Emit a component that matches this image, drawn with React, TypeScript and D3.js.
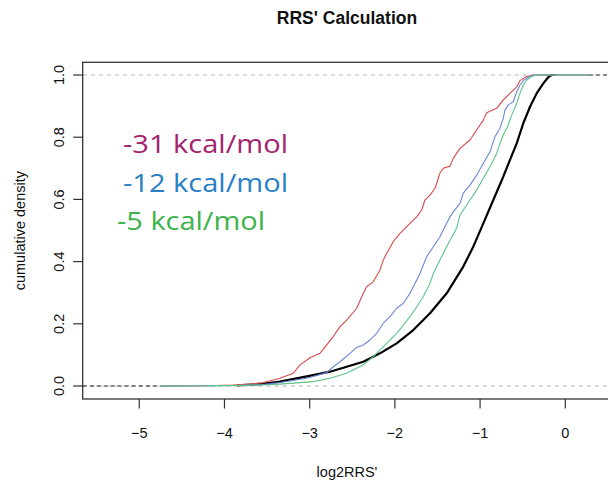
import React from "react";
import * as d3 from "d3";

const W = 608;
const H = 483;

const xTicks = [-5, -4, -3, -2, -1, 0];
const yTicks = [0, 0.2, 0.4, 0.6, 0.8, 1.0];

const redX = [-4.75, -4.2, -3.9, -3.7, -3.545, -3.349, -3.192, -3.114, -2.996, -2.879, -2.8, -2.723, -2.644, -2.566, -2.448, -2.371, -2.331, -2.254, -2.175, -2.136, -2.096, -2.019, -1.94, -1.823, -1.744, -1.685, -1.647, -1.588, -1.529, -1.471, -1.432, -1.353, -1.315, -1.236, -1.119, -1.04, -0.962, -0.923, -0.805, -0.728, -0.649, -0.57, -0.532, -0.453, -0.376, 0.28];
const redY = [0, 0.001, 0.003, 0.006, 0.011, 0.025, 0.041, 0.068, 0.091, 0.105, 0.132, 0.159, 0.191, 0.212, 0.25, 0.298, 0.319, 0.335, 0.373, 0.405, 0.427, 0.464, 0.491, 0.523, 0.544, 0.566, 0.598, 0.614, 0.636, 0.684, 0.7, 0.707, 0.732, 0.764, 0.791, 0.823, 0.855, 0.879, 0.893, 0.92, 0.941, 0.962, 0.982, 0.995, 1.0, 1.0];

const blueX = [-4.75, -4.2, -3.8, -3.55, -3.349, -3.035, -2.8, -2.723, -2.644, -2.527, -2.448, -2.371, -2.292, -2.214, -2.136, -2.058, -1.979, -1.901, -1.823, -1.784, -1.705, -1.627, -1.549, -1.471, -1.392, -1.353, -1.315, -1.236, -1.197, -1.119, -1.04, -0.962, -0.884, -0.825, -0.766, -0.728, -0.708, -0.669, -0.61, -0.57, -0.532, -0.493, -0.434, -0.376, 0.28];
const blueY = [0, 0.001, 0.002, 0.005, 0.011, 0.025, 0.043, 0.062, 0.078, 0.105, 0.124, 0.132, 0.148, 0.169, 0.202, 0.223, 0.25, 0.266, 0.298, 0.319, 0.362, 0.416, 0.448, 0.48, 0.523, 0.544, 0.56, 0.587, 0.62, 0.646, 0.678, 0.716, 0.753, 0.802, 0.829, 0.861, 0.887, 0.904, 0.914, 0.946, 0.968, 0.982, 0.993, 1.0, 1.0];

const greenX = [-4.75, -4.2, -3.8, -3.5, -3.349, -2.958, -2.762, -2.566, -2.371, -2.254, -2.175, -2.096, -1.979, -1.901, -1.823, -1.744, -1.667, -1.588, -1.549, -1.509, -1.432, -1.353, -1.275, -1.236, -1.197, -1.119, -1.04, -0.962, -0.884, -0.805, -0.766, -0.728, -0.669, -0.629, -0.57, -0.532, -0.493, -0.453, -0.394, -0.336, 0.28];
const greenY = [0, 0.001, 0.002, 0.004, 0.006, 0.014, 0.025, 0.041, 0.068, 0.094, 0.116, 0.137, 0.169, 0.196, 0.223, 0.255, 0.287, 0.33, 0.362, 0.384, 0.427, 0.469, 0.507, 0.55, 0.566, 0.598, 0.63, 0.668, 0.705, 0.748, 0.78, 0.807, 0.839, 0.871, 0.909, 0.941, 0.968, 0.984, 0.995, 1.0, 1.0];

const blackX = [-3.85, -3.55, -3.349, -2.958, -2.762, -2.566, -2.371, -2.175, -1.979, -1.784, -1.588, -1.392, -1.197, -1.08, -0.962, -0.845, -0.728, -0.649, -0.57, -0.493, -0.414, -0.336, -0.258, -0.2, -0.16, -0.12];
const blackY = [0.002, 0.007, 0.014, 0.035, 0.046, 0.062, 0.078, 0.105, 0.137, 0.18, 0.234, 0.298, 0.384, 0.448, 0.523, 0.598, 0.673, 0.727, 0.78, 0.845, 0.898, 0.941, 0.973, 0.993, 1.0, 1.0];

const legendLabels = ["-31 kcal/mol", "-12 kcal/mol", "-5 kcal/mol"];
const legendColors = ["#a3246c", "#2780c6", "#3cb44b"];

const series = [
  { xs: blackX, ys: blackY, color: "#000000", width: 2.2 },
  { xs: redX, ys: redY, color: "#d94a4a", width: 1.1 },
  { xs: blueX, ys: blueY, color: "#6a86d8", width: 1.1 },
  { xs: greenX, ys: greenY, color: "#5cc487", width: 1.1 },
];

export default function App() {
  const left = 82.7;
  const right = 611;
  const top = 62.3;
  const bottom = 399;
  const x = d3.scaleLinear().domain([-5.664, 0.5365]).range([left, right]);
  const y = d3.scaleLinear().domain([-0.0418, 1.0409]).range([bottom, top]);
  const line = d3
    .line<[number, number]>()
    .x((d) => x(d[0]))
    .y((d) => y(d[1]))
    .curve(d3.curveLinear);
  const font = "'Liberation Sans', Arial, Helvetica, sans-serif";
  const fs = 14.5;

  return (
    <svg
      width={W}
      height={H}
      style={{ position: "absolute", left: 0, top: 0, background: "#fff" }}
    >
      <defs>
        <clipPath id="plotclip">
          <rect x={left} y={top} width={right - left} height={bottom - top} />
        </clipPath>
      </defs>
      <text
        x={347}
        y={24}
        textAnchor="middle"
        fontFamily={font}
        fontWeight="bold"
        fontSize={17.5}
        fill="#111"
      >
        RRS' Calculation
      </text>

      <g clipPath="url(#plotclip)">
        {[0, 1].map((v) => (
          <line
            key={v}
            x1={left}
            x2={right}
            y1={y(v)}
            y2={y(v)}
            stroke="#b5b5b5"
            strokeWidth={1}
            strokeDasharray="4,4"
          />
        ))}
        <line
          x1={left}
          x2={x(-4.75)}
          y1={y(0)}
          y2={y(0)}
          stroke="#222"
          strokeWidth={1}
          strokeDasharray="4,3"
        />
        <line
          x1={x(0.28)}
          x2={right}
          y1={y(1)}
          y2={y(1)}
          stroke="#333"
          strokeWidth={1}
          strokeDasharray="4,3"
        />
        {series.map((s, i) => (
          <path
            key={i}
            d={line(s.xs.map((v, j) => [v, s.ys[j]] as [number, number])) || ""}
            fill="none"
            stroke={s.color}
            strokeWidth={s.width}
            strokeLinejoin="round"
          />
        ))}
      </g>

      <rect
        x={left}
        y={top}
        width={right - left}
        height={bottom - top}
        fill="none"
        stroke="#333"
        strokeWidth={1.3}
      />

      {xTicks.map((t) => (
        <g key={t}>
          <line x1={x(t)} x2={x(t)} y1={bottom} y2={bottom + 9.5} stroke="#333" strokeWidth={1.2} />
          <text
            x={x(t)}
            y={438}
            textAnchor="middle"
            fontFamily={font}
            fontSize={fs}
            fill="#111"
          >
            {t < 0 ? "\u2212" + Math.abs(t) : String(t)}
          </text>
        </g>
      ))}
      {yTicks.map((t) => (
        <g key={t}>
          <line x1={left - 9.5} x2={left} y1={y(t)} y2={y(t)} stroke="#333" strokeWidth={1.2} />
          <text
            transform={`translate(63.5,${y(t)}) rotate(-90)`}
            textAnchor="middle"
            fontFamily={font}
            fontSize={fs}
            fill="#111"
          >
            {t.toFixed(1)}
          </text>
        </g>
      ))}

      <text
        x={347}
        y={477}
        textAnchor="middle"
        fontFamily={font}
        fontSize={fs}
        fill="#111"
      >
        log2RRS'
      </text>
      <text
        transform={`translate(25,${(top + bottom) / 2}) rotate(-90)`}
        textAnchor="middle"
        fontFamily={font}
        fontSize={fs}
        fill="#111"
      >
        cumulative density
      </text>

      {legendLabels.map((lab, i) => (
        <text
          key={lab}
          x={i === 2 ? 117 : 123}
          y={153 + i * 38.5}
          fontFamily="'Open Sans', 'Noto Sans', sans-serif"
          fontSize={25}
          fill={legendColors[i]}
          textLength={i === 2 ? 148 : 165}
          lengthAdjust="spacingAndGlyphs"
        >
          {lab}
        </text>
      ))}
    </svg>
  );
}
